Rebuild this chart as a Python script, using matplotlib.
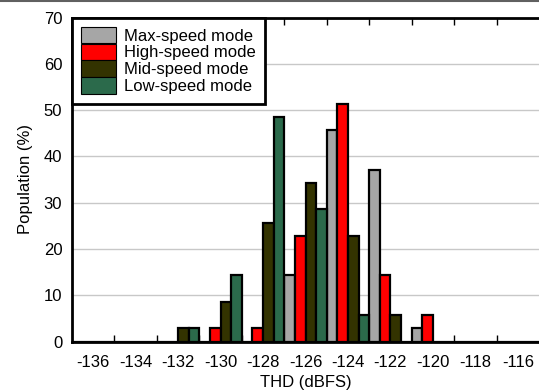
import matplotlib.pyplot as plt
from matplotlib.lines import Line2D

plt.rcParams['font.family'] = ['Liberation Sans', 'DejaVu Sans']

thd_bins = [-136, -134, -132, -130, -128, -126, -124, -122, -120, -118, -116]
max_speed = [0, 0, 0, 0, 0, 14.3, 45.7, 37.1, 2.9, 0, 0]
high_speed = [0, 0, 0, 2.9, 2.9, 22.9, 51.4, 14.3, 5.7, 0, 0]
mid_speed = [0, 0, 2.9, 8.6, 25.7, 34.3, 22.9, 5.7, 0, 0, 0]
low_speed = [0, 0, 2.9, 14.3, 48.6, 28.6, 5.7, 0, 0, 0, 0]

series = [
    ('Max-speed mode', max_speed, '#a6a6a6'),
    ('High-speed mode', high_speed, '#ff0000'),
    ('Mid-speed mode', mid_speed, '#333300'),
    ('Low-speed mode', low_speed, '#2b6a4b'),
]

fig = plt.figure(figsize=(5.39, 3.92), dpi=100)
ax = fig.add_axes([72 / 539, 50.5 / 392, 1 - 72 / 539, 324 / 392])

idx = list(range(len(thd_bins)))
w = 0.25
handles = []
for k, (name, vals, color) in enumerate(series):
    pos = [i + (k - 1.5) * w for i in idx]
    ax.bar(pos, vals, width=w, color=color, edgecolor='black', linewidth=1.6, zorder=3)
    handles.append(plt.Rectangle((0, 0), 1, 1, facecolor=color, edgecolor='black', linewidth=0.8))

ax.set_xlim(-0.5, len(thd_bins) - 0.5)
ax.set_ylim(0, 70)
ax.set_yticks(range(0, 71, 10))
ax.yaxis.grid(True, color='#c8c8c8', linewidth=1.0, zorder=0)
ax.set_axisbelow(True)

# labels sit in the middle of each bin, tick marks on the bin edges
ax.set_xticks(idx)
ax.set_xticklabels([str(v) for v in thd_bins])
ax.set_xticks([i + 0.5 for i in idx[:-1]], minor=True)
ax.tick_params(axis='x', which='major', length=0, pad=10, labelsize=12)
ax.tick_params(axis='x', which='minor', direction='in', length=5, width=1, top=True, bottom=True)
ax.tick_params(axis='y', length=0, pad=7, labelsize=12)

for side in ('left', 'bottom', 'top'):
    ax.spines[side].set_linewidth(2)
ax.spines['right'].set_visible(False)

ax.set_xlabel('THD (dBFS)', fontsize=12, labelpad=3)
ax.set_ylabel('Population (%)', fontsize=12)
ax.yaxis.set_label_coords(-0.084, 0.5)

leg = ax.legend(handles, [s[0] for s in series], loc='upper left', bbox_to_anchor=(0, 1),
                borderaxespad=0, fontsize=12, fancybox=False, framealpha=1,
                edgecolor='black', handlelength=2.1, handleheight=1.15,
                labelspacing=0, handletextpad=0.5, borderpad=0.55)
leg.get_frame().set_linewidth(2)
leg.set_zorder(5)

fig.add_artist(Line2D([0, 1], [0.998, 0.998], color='#606060', linewidth=1.5))

fig.savefig('out.png', dpi=100)
